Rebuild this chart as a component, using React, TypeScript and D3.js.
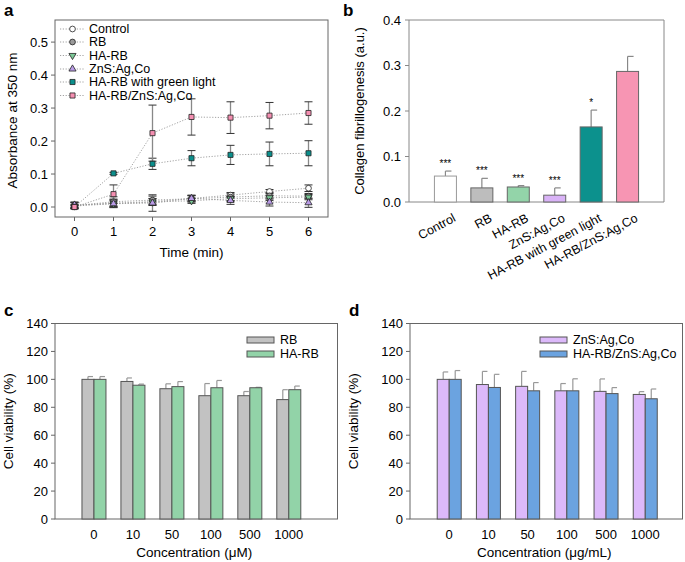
import React from 'react';
import * as d3 from 'd3';

// ---------- Panel a data ----------
const timePoints = [0, 1, 2, 3, 4, 5, 6];
const seriesNamesA = ['Control', 'RB', 'HA-RB', 'ZnS:Ag,Co', 'HA-RB with green light', 'HA-RB/ZnS:Ag,Co'];
const controlVals = [0.005, 0.012, 0.016, 0.026, 0.036, 0.047, 0.057];
const controlErr = [0.01, 0.012, 0.01, 0.008, 0.008, 0.006, 0.01];
const rbVals = [0.004, 0.016, 0.021, 0.025, 0.03, 0.034, 0.033];
const rbErr = [0.01, 0.015, 0.012, 0.01, 0.01, 0.01, 0.008];
const haRbVals = [0.003, 0.01, 0.015, 0.019, 0.025, 0.028, 0.03];
const haRbErr = [0.005, 0.01, 0.01, 0.008, 0.008, 0.008, 0.008];
const znsVals = [0.006, 0.01, 0.012, 0.026, 0.02, 0.015, 0.013];
const znsErr = [0.008, 0.012, 0.025, 0.01, 0.012, 0.012, 0.014];
const greenLightVals = [0.0, 0.102, 0.131, 0.148, 0.158, 0.161, 0.163];
const greenLightErr = [0.004, 0.003, 0.017, 0.023, 0.029, 0.036, 0.038];
const haRbZnsVals = [0.0, 0.039, 0.224, 0.273, 0.271, 0.277, 0.285];
const haRbZnsErr = [0.004, 0.028, 0.085, 0.055, 0.048, 0.04, 0.034];
const yTicksA = [0.0, 0.1, 0.2, 0.3, 0.4, 0.5];

// ---------- Panel b data ----------
const categoriesB = ['Control', 'RB', 'HA-RB', 'ZnS:Ag,Co', 'HA-RB with green light', 'HA-RB/ZnS:Ag,Co'];
const valuesB = [0.057, 0.031, 0.033, 0.015, 0.165, 0.287];
const errB = [0.011, 0.021, 0.003, 0.016, 0.037, 0.033];
const signifB = ['***', '***', '***', '***', '*', ''];
const yTicksB = [0.0, 0.1, 0.2, 0.3, 0.4];

// ---------- Panel c data ----------
const concC = ['0', '10', '50', '100', '500', '1000'];
const rbViab = [100, 98.5, 93.3, 88.3, 88.3, 85.5];
const rbViabErr = [2, 2.5, 3.5, 8.7, 3, 7.1];
const haRbViab = [100, 95.8, 94.8, 94, 94, 92.6];
const haRbViabErr = [2, 0.8, 3.6, 5.2, 0.3, 2.6];

// ---------- Panel d data ----------
const concD = ['0', '10', '50', '100', '500', '1000'];
const znsViab = [100, 96.3, 95, 91.8, 91.4, 89.2];
const znsViabErr = [5.3, 9.4, 10.7, 5.2, 8.9, 2];
const haRbZnsViab = [100, 94.2, 91.8, 91.8, 89.8, 86.1];
const haRbZnsViabErr = [6.3, 9.4, 5.9, 8.6, 4.3, 7];
const yTicksCD = [0, 20, 40, 60, 80, 100, 120, 140];

const FONT = '"Liberation Sans", Arial, Helvetica, sans-serif';
const AXIS = '#666';

function PanelA() {
  const left = 55, right = 328, top = 20, bottom = 217;
  const x = d3.scaleLinear().domain([-0.5, 6.5]).range([left, right]);
  const y = d3.scaleLinear().domain([-0.0303, 0.567]).range([bottom, top]);
  const series = [
    { name: seriesNamesA[0], vals: controlVals, err: controlErr, fill: '#ffffff', shape: 'circle' },
    { name: seriesNamesA[1], vals: rbVals, err: rbErr, fill: '#9a9a9a', shape: 'circle' },
    { name: seriesNamesA[2], vals: haRbVals, err: haRbErr, fill: '#7cc897', shape: 'tdown' },
    { name: seriesNamesA[3], vals: znsVals, err: znsErr, fill: '#b99be6', shape: 'tup' },
    { name: seriesNamesA[4], vals: greenLightVals, err: greenLightErr, fill: '#0b8f8c', shape: 'square' },
    { name: seriesNamesA[5], vals: haRbZnsVals, err: haRbZnsErr, fill: '#f48fb1', shape: 'square' },
  ];
  const line = d3.line<number>().x((_, i) => x(timePoints[i])).y((v) => y(v));
  const marker = (shape: string, cx: number, cy: number, fill: string, key: string) => {
    const sym =
      shape === 'circle' ? d3.symbolCircle : shape === 'square' ? d3.symbolSquare : d3.symbolTriangle;
    const size = shape === 'circle' ? 26 : shape === 'square' ? 26 : 22;
    const path = d3.symbol().type(sym).size(size)();
    const rot = shape === 'tdown' ? 180 : 0;
    return (
      <path key={key} d={path || ''} transform={`translate(${cx},${cy}) rotate(${rot})`} fill={fill} stroke="#222" strokeWidth={0.8} />
    );
  };
  const legendY = [29, 42, 55.5, 69, 82, 95.5];
  return (
    <g fontFamily={FONT}>
      <text x={4} y={16} fontSize={17} fontWeight="bold">a</text>
      <rect x={left} y={top} width={right - left} height={bottom - top} fill="none" stroke={AXIS} strokeWidth={1} />
      {yTicksA.map((t) => (
        <g key={t}>
          <line x1={left - 4} x2={left} y1={y(t)} y2={y(t)} stroke={AXIS} />
          <text x={left - 7} y={y(t)} dy="0.35em" textAnchor="end" fontSize={13}>{d3.format('.1f')(t)}</text>
        </g>
      ))}
      {timePoints.map((t) => (
        <g key={t}>
          <line x1={x(t)} x2={x(t)} y1={bottom} y2={bottom + 4} stroke={AXIS} />
          <text x={x(t)} y={bottom + 19} textAnchor="middle" fontSize={13}>{t}</text>
        </g>
      ))}
      <text x={x(3)} y={257} textAnchor="middle" fontSize={13.5}>Time (min)</text>
      <text transform={`translate(17,${(top + bottom) / 2 + 2}) rotate(-90)`} textAnchor="middle" fontSize={13.5}>Absorbance at 350 nm</text>
      {series.map((s, si) => (
        <path key={'l' + si} d={line(s.vals) || ''} fill="none" stroke="#999" strokeWidth={0.9} strokeDasharray="1.2,1.6" />
      ))}
      {series.map((s, si) =>
        s.vals.map((v, i) => (
          <g key={`e${si}-${i}`}>
            <line x1={x(timePoints[i])} x2={x(timePoints[i])} y1={y(v - s.err[i])} y2={y(v + s.err[i])} stroke="#888" strokeWidth={1.3} />
            <line x1={x(timePoints[i]) - 4} x2={x(timePoints[i]) + 4} y1={y(v - s.err[i])} y2={y(v - s.err[i])} stroke="#333" strokeWidth={1} />
            <line x1={x(timePoints[i]) - 4} x2={x(timePoints[i]) + 4} y1={y(v + s.err[i])} y2={y(v + s.err[i])} stroke="#333" strokeWidth={1} />
          </g>
        ))
      )}
      {series.map((s, si) => s.vals.map((v, i) => marker(s.shape, x(timePoints[i]), y(v), s.fill, `m${si}-${i}`)))}
      {series.map((s, si) => (
        <g key={'lg' + si}>
          <line x1={60} x2={85} y1={legendY[si]} y2={legendY[si]} stroke="#999" strokeWidth={0.9} strokeDasharray="1.2,1.6" />
          {marker(s.shape, 72.5, legendY[si], s.fill, 'lm' + si)}
          <text x={89} y={legendY[si]} dy="0.35em" fontSize={12.5}>{s.name}</text>
        </g>
      ))}
    </g>
  );
}

function PanelB() {
  const left = 409, right = 664, top = 20, bottom = 202;
  const x = d3.scaleLinear().domain([0, 7]).range([left, right]);
  const y = d3.scaleLinear().domain([0, 0.4]).range([bottom, top]);
  const colors = ['#ffffff', '#bdbdbd', '#93d4a9', '#d9b3f7', '#0c918d', '#f795b3'];
  const bw = 22;
  return (
    <g fontFamily={FONT}>
      <text x={343} y={16} fontSize={17} fontWeight="bold">b</text>
      <path d={`M${left},${bottom}V${top}H${right}V${bottom}`} fill="none" stroke="#888" />
      <line x1={left} x2={right} y1={bottom} y2={bottom} stroke="#888" />
      {yTicksB.map((t) => (
        <g key={t}>
          <line x1={left - 4} x2={left} y1={y(t)} y2={y(t)} stroke="#888" />
          <text x={left - 8} y={y(t)} dy="0.35em" textAnchor="end" fontSize={13}>{d3.format('.1f')(t)}</text>
        </g>
      ))}
      <text transform={`translate(364,${(top + bottom) / 2}) rotate(-90)`} textAnchor="middle" fontSize={13}>Collagen fibrillogenesis (a.u.)</text>
      {categoriesB.map((c, i) => {
        const cx = x(i + 1);
        const v = valuesB[i];
        const etop = y(v + errB[i]);
        return (
          <g key={c}>
            <line x1={cx} x2={cx} y1={y(v)} y2={etop} stroke="#888" strokeWidth={1.2} />
            <line x1={cx} x2={cx + 6} y1={etop} y2={etop} stroke="#888" strokeWidth={1.2} />
            <rect x={cx - bw / 2} y={y(v)} width={bw} height={bottom - y(v)} fill={colors[i]} stroke={i === 0 ? '#999' : '#666'} strokeWidth={1} />
            {signifB[i] && (
              <text x={cx} y={etop - 4} textAnchor="middle" fontSize={10} fill="#000">{signifB[i]}</text>
            )}
            <text transform={`translate(${cx + 7},${bottom + 11}) rotate(-28)`} textAnchor="end" fontSize={12.5} dy="0.7em">{c}</text>
          </g>
        );
      })}
    </g>
  );
}

function ViabilityPanel(props: {
  letter: string; ox: number; left: number; right: number; xMax: number;
  cats: string[]; v1: number[]; e1: number[]; v2: number[]; e2: number[];
  c1: string; c2: string; n1: string; n2: string; xlabel: string; legendX: number;
}) {
  const { letter, ox, left, right, xMax, cats, v1, e1, v2, e2, c1, c2, n1, n2, xlabel, legendX } = props;
  const top = 323.5, bottom = 519;
  const x = d3.scaleLinear().domain([0, xMax]).range([left, right]);
  const y = d3.scaleLinear().domain([0, 140]).range([bottom, top]);
  const bw = 12;
  const bar = (cx: number, v: number, e: number, col: string, key: string) => (
    <g key={key}>
      <line x1={cx + bw / 2} x2={cx + bw / 2} y1={y(v)} y2={y(v + e)} stroke="#999" strokeWidth={1.2} />
      <line x1={cx + bw / 2} x2={cx + bw / 2 + 5} y1={y(v + e)} y2={y(v + e)} stroke="#999" strokeWidth={1.2} />
      <rect x={cx} y={y(v)} width={bw} height={bottom - y(v)} fill={col} stroke="#555" strokeWidth={1} />
    </g>
  );
  return (
    <g fontFamily={FONT}>
      <text x={ox + 4} y={316} fontSize={17} fontWeight="bold">{letter}</text>
      <rect x={left} y={top} width={right - left} height={bottom - top} fill="none" stroke={AXIS} />
      {yTicksCD.map((t) => (
        <g key={t}>
          <line x1={left - 4} x2={left} y1={y(t)} y2={y(t)} stroke={AXIS} />
          <text x={left - 7} y={y(t)} dy="0.35em" textAnchor="end" fontSize={13}>{t}</text>
        </g>
      ))}
      <text transform={`translate(${ox + 13},${(top + bottom) / 2}) rotate(-90)`} textAnchor="middle" fontSize={13.5}>Cell viability (%)</text>
      {cats.map((c, i) => {
        const cx = x(i + 1);
        return (
          <g key={c}>
            {bar(cx - bw, v1[i], e1[i], c1, 'a')}
            {bar(cx, v2[i], e2[i], c2, 'b')}
            <text x={cx} y={539} textAnchor="middle" fontSize={13}>{c}</text>
          </g>
        );
      })}
      <text x={(left + right) / 2 - 2} y={557} textAnchor="middle" fontSize={13.5}>{xlabel}</text>
      {[{ n: n1, c: c1 }, { n: n2, c: c2 }].map((d, i) => (
        <g key={d.n}>
          <rect x={legendX} y={337 + i * 14} width={27} height={6} fill={d.c} stroke="#555" />
          <text x={legendX + 33} y={340 + i * 14} dy="0.35em" fontSize={12.5}>{d.n}</text>
        </g>
      ))}
    </g>
  );
}

export default function App() {
  return (
    <svg width={685} height={562} style={{ position: 'absolute', left: 0, top: 0, background: '#fff' }}>
      <rect width={685} height={562} fill="#fff" />
      <PanelA />
      <PanelB />
      <ViabilityPanel letter="c" ox={0} left={55} right={337.5} xMax={7.25}
        cats={concC} v1={rbViab} e1={rbViabErr} v2={haRbViab} e2={haRbViabErr}
        c1="#c2c2c2" c2="#92d3a8" n1="RB" n2="HA-RB" xlabel="Concentration (μM)" legendX={247} />
      <ViabilityPanel letter="d" ox={345} left={410} right={682.5} xMax={6.95}
        cats={concD} v1={znsViab} e1={znsViabErr} v2={haRbZnsViab} e2={haRbZnsViabErr}
        c1="#dcb9fa" c2="#6ba3e0" n1="ZnS:Ag,Co" n2="HA-RB/ZnS:Ag,Co" xlabel="Concentration (μg/mL)" legendX={540} />
    </svg>
  );
}
